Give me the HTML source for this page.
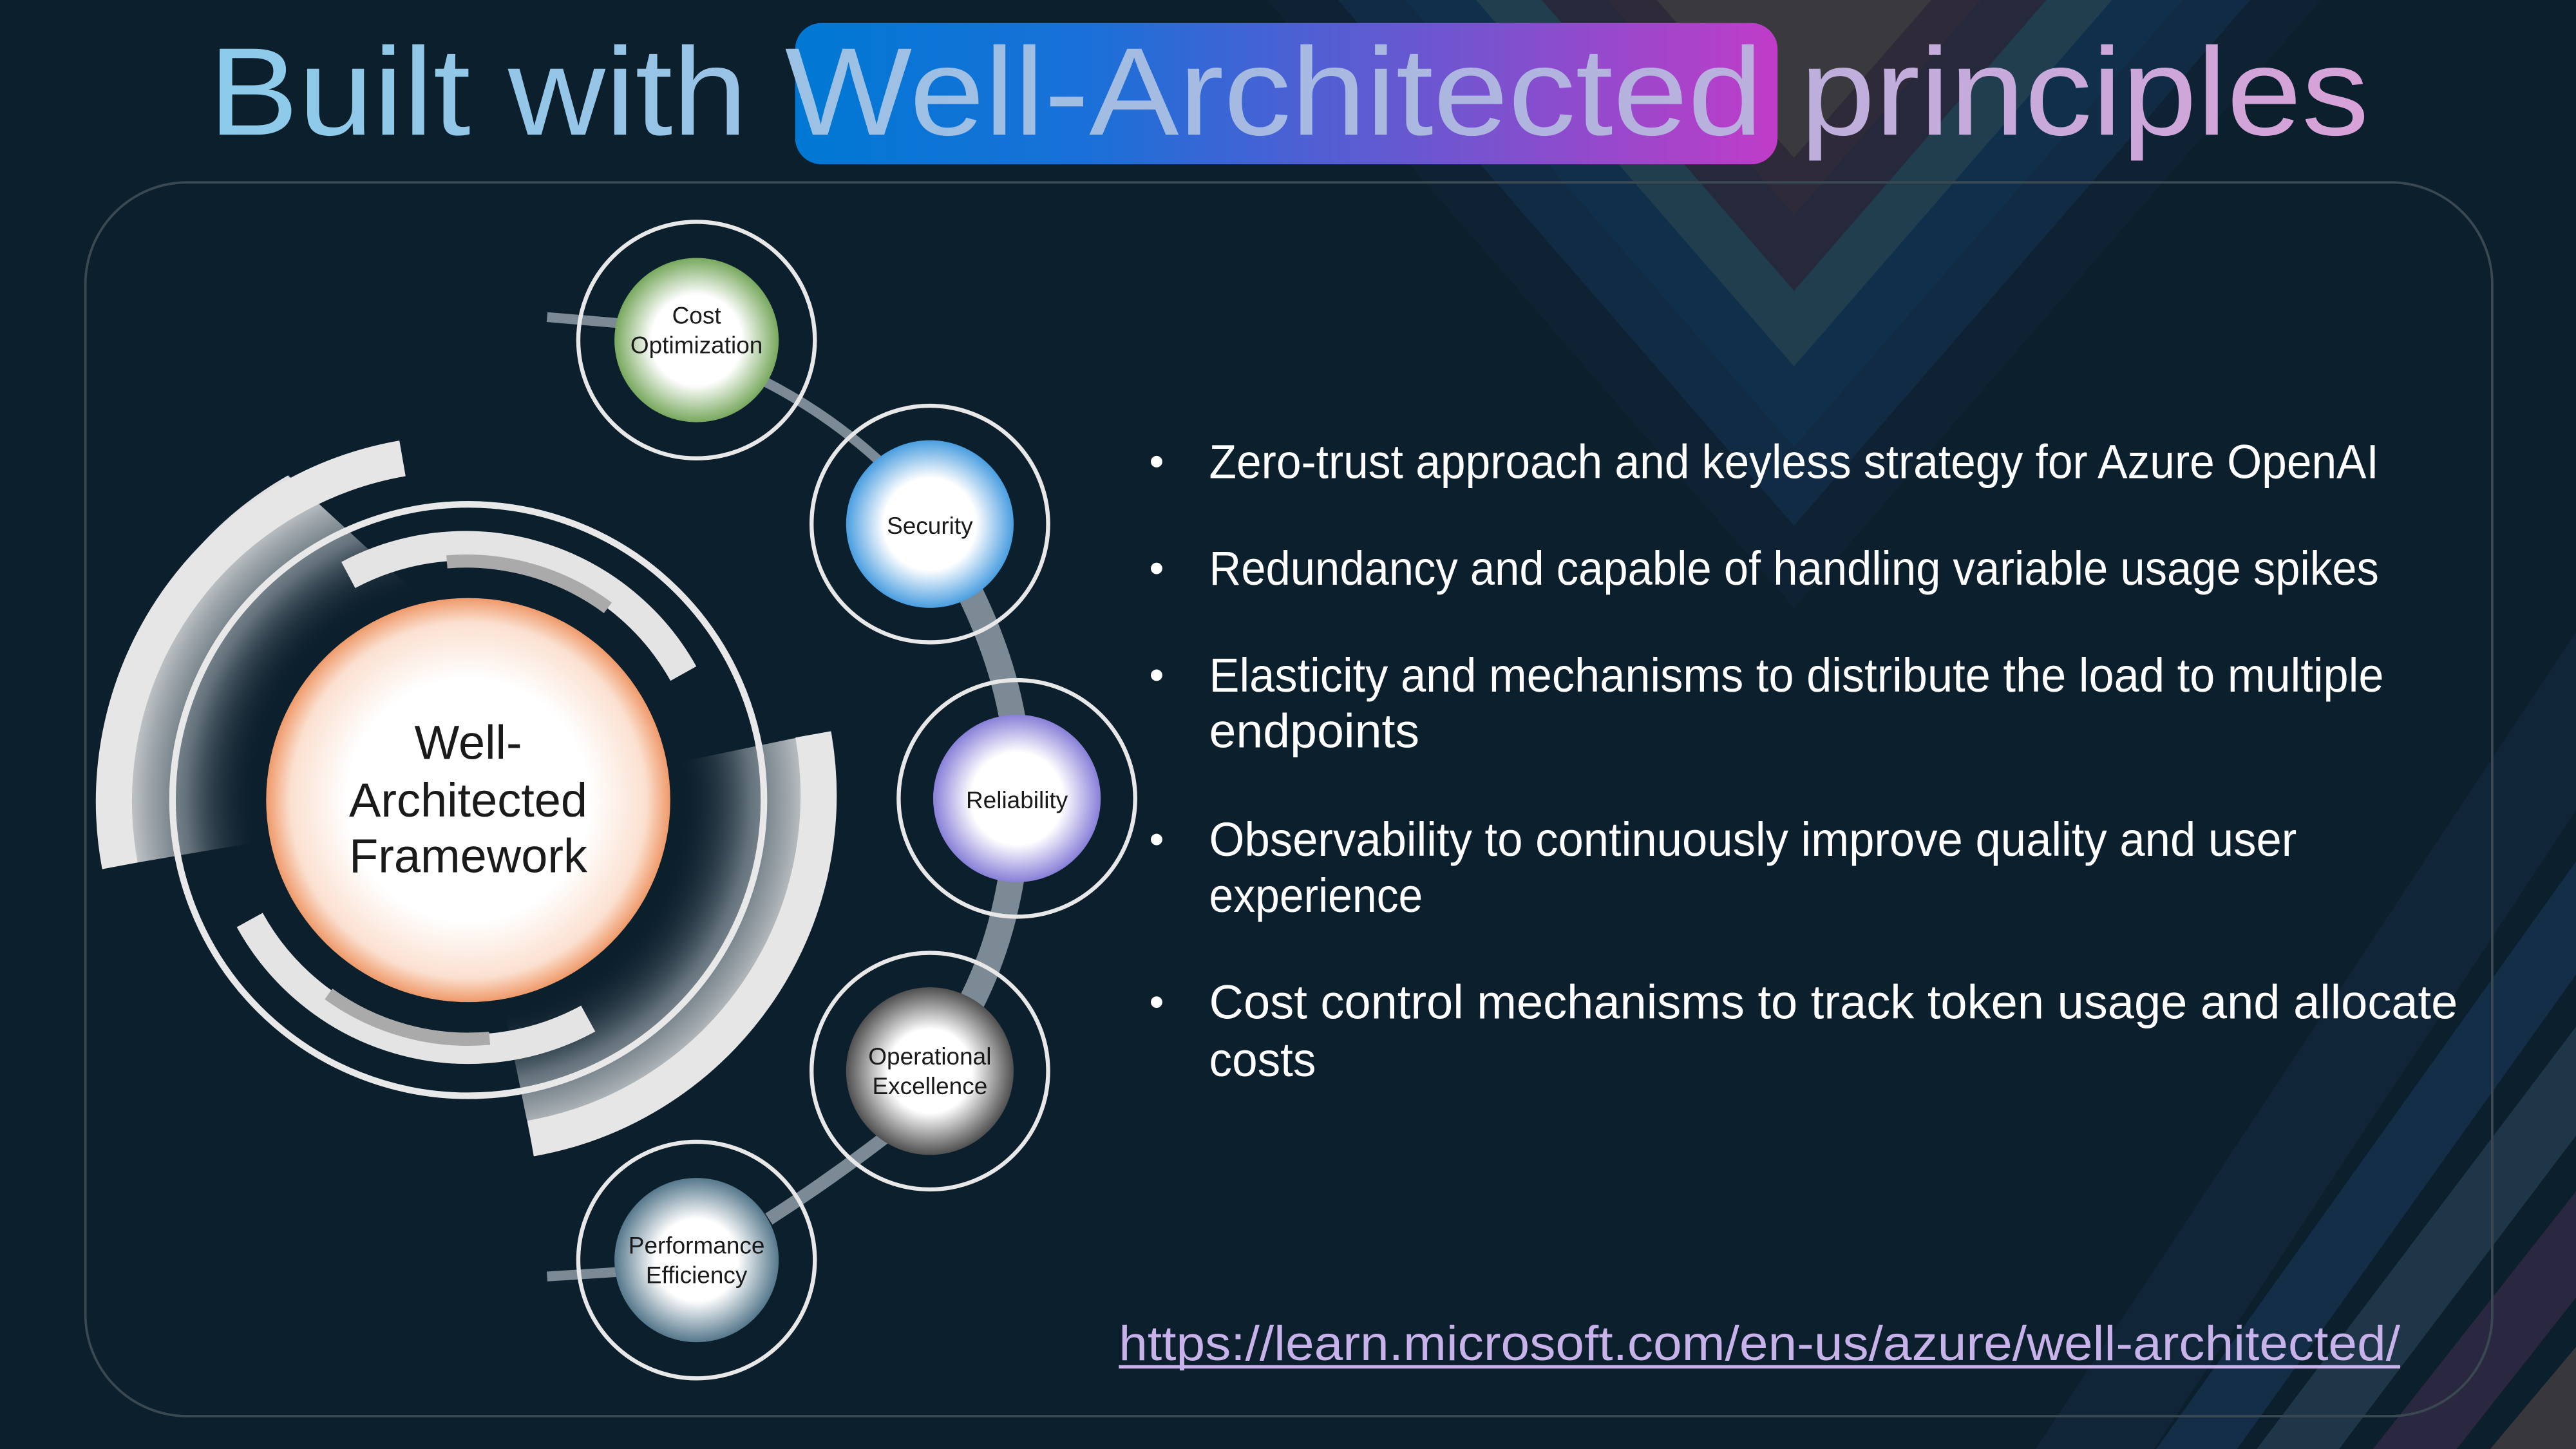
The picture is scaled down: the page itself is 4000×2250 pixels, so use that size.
<!DOCTYPE html>
<html><head><meta charset="utf-8"><style>
html,body{margin:0;padding:0;background:#0c1f2c;}
svg{display:block}
text{font-family:"Liberation Sans",sans-serif}
</style></head><body>
<svg width="4000" height="2250" viewBox="0 0 1568 882" xmlns="http://www.w3.org/2000/svg">
<defs>
<linearGradient id="tg" x1="127" y1="0" x2="1442" y2="0" gradientUnits="userSpaceOnUse">
<stop offset="0" stop-color="#8ccbea"/><stop offset="0.55" stop-color="#aab8e0"/><stop offset="1" stop-color="#d8a2d8"/></linearGradient>
<linearGradient id="hb" x1="0" y1="0" x2="1" y2="0"><stop offset="0" stop-color="#0078d4"/><stop offset="0.3" stop-color="#1a70d8"/><stop offset="1" stop-color="#c03cc8"/></linearGradient>
<radialGradient id="og"><stop offset="0.6" stop-color="#fff"/><stop offset="0.88" stop-color="#fbe0d0"/><stop offset="1" stop-color="#ef9a6a"/></radialGradient>
<radialGradient id="g1"><stop offset="0.55" stop-color="#fff"/><stop offset="1" stop-color="#78a85e"/></radialGradient>
<radialGradient id="g2"><stop offset="0.55" stop-color="#fff"/><stop offset="1" stop-color="#4a9ee0"/></radialGradient>
<radialGradient id="g3"><stop offset="0.55" stop-color="#fff"/><stop offset="1" stop-color="#8880d8"/></radialGradient>
<radialGradient id="g4"><stop offset="0.5" stop-color="#fff"/><stop offset="1" stop-color="#505050"/></radialGradient>
<radialGradient id="g5"><stop offset="0.5" stop-color="#fff"/><stop offset="1" stop-color="#56788c"/></radialGradient>
<radialGradient id="sh" cx="285" cy="487" r="215" gradientUnits="userSpaceOnUse"><stop offset="0.6" stop-color="#0c1f2c" stop-opacity="0"/><stop offset="0.8" stop-color="#8a969e" stop-opacity="0.7"/><stop offset="1" stop-color="#e0e0e0"/></radialGradient>
</defs>
<rect width="1568" height="882" fill="#0c1f2c"/>
<!-- background chevrons -->
<g stroke-linejoin="round">
<polygon points="728,-50 1092,370 1456,-50" fill="#0f2234"/>
<polygon points="771,-50 1092,320 1413,-50" fill="#112b44"/>
<polygon points="812,-50 1092,272 1372,-50" fill="#0f2f4a"/>
<polygon points="855,-50 1092,223 1329,-50" fill="#203e4e"/>
<polygon points="895,-50 1092,177 1289,-50" fill="#26283c"/>
<polygon points="935,-50 1092,131 1249,-50" fill="#2e2a3a"/>
<polygon points="965,-50 1092,96 1219,-50" fill="#3a3a3e"/>
</g>
<g fill="none">
<line x1="1640" y1="330" x2="1250" y2="920" stroke="#102538" stroke-width="60"/>
<line x1="1660" y1="430" x2="1310" y2="920" stroke="#142e48" stroke-width="40"/>
<line x1="1680" y1="510" x2="1370" y2="920" stroke="#1e3648" stroke-width="40"/>
<line x1="1700" y1="590" x2="1440" y2="920" stroke="#2a2840" stroke-width="40"/>
<line x1="1720" y1="670" x2="1510" y2="920" stroke="#38383c" stroke-width="40"/>
</g>
<!-- panel -->
<rect x="52" y="111" width="1465" height="751" rx="62" fill="none" stroke="#3a4852" stroke-width="1.5"/>
<!-- title -->
<rect x="484" y="14" width="598" height="86" rx="16" fill="url(#hb)"/>
<text x="127" y="82" font-size="76" fill="url(#tg)" textLength="1315" lengthAdjust="spacingAndGlyphs">Built with Well-Architected principles</text>
<!-- big diagram -->
<path d="M 175.3 289.4 A 215 215 0 0 0 72 527 L 166 511 A 120 120 0 0 1 262 369 Z" fill="url(#sh)"/>
<path d="M 495 447 A 215 215 0 0 1 323 693 L 305 605 A 120 120 0 0 0 403 466 Z" fill="url(#sh)"/>
<path d="M 245 279 A 212 212 0 0 0 73 527" fill="none" stroke="#e6e6e6" stroke-width="22"/>
<path d="M 495 447 A 212 212 0 0 1 323 693" fill="none" stroke="#e6e6e6" stroke-width="22"/>
<circle cx="285" cy="487" r="180" fill="none" stroke="#e8e8e8" stroke-width="4"/>
<path d="M 212 350 A 152 152 0 0 1 416 410" fill="none" stroke="#e4e4e4" stroke-width="18"/>
<path d="M 272 342 A 145 145 0 0 1 370 370" fill="none" stroke="#aaaaaa" stroke-width="8"/>
<path d="M 152 560 A 152 152 0 0 0 358 620" fill="none" stroke="#e4e4e4" stroke-width="18"/>
<path d="M 200 605 A 145 145 0 0 0 298 632" fill="none" stroke="#aaaaaa" stroke-width="8"/>
<circle cx="285" cy="487" r="123" fill="url(#og)"/>
<g font-size="29" fill="#1a1a1a" text-anchor="middle">
<text x="285" y="462">Well-</text><text x="285" y="497">Architected</text><text x="285" y="531">Framework</text></g>
<!-- connectors -->
<g fill="none" stroke="#7b8a94" stroke-linecap="butt">
<path d="M333,193 L380,197" stroke-width="6"/>
<path d="M465,232 Q510,255 545,290" stroke-width="6"/>
<path d="M585,350 Q622,420 620,486 Q618,570 580,630" stroke-width="16"/>
<path d="M548,685 Q510,715 468,742" stroke-width="8"/>
<path d="M333,777 L380,774" stroke-width="6"/>
</g>
<!-- small nodes -->
<g fill="none" stroke="#e8e8e8" stroke-width="2.5">
<circle cx="424" cy="207" r="72"/><circle cx="566" cy="319" r="72"/><circle cx="619" cy="486" r="72"/><circle cx="566" cy="652" r="72"/><circle cx="424" cy="767" r="72"/>
</g>
<circle cx="424" cy="207" r="50" fill="url(#g1)"/>
<circle cx="566" cy="319" r="51" fill="url(#g2)"/>
<circle cx="619" cy="486" r="51" fill="url(#g3)"/>
<circle cx="566" cy="652" r="51" fill="url(#g4)"/>
<circle cx="424" cy="767" r="50" fill="url(#g5)"/>
<g font-size="14.5" fill="#1a1a1a" text-anchor="middle">
<text x="424" y="197">Cost</text><text x="424" y="215">Optimization</text>
<text x="566" y="325">Security</text>
<text x="619" y="492">Reliability</text>
<text x="566" y="648">Operational</text><text x="566" y="666">Excellence</text>
<text x="424" y="763">Performance</text><text x="424" y="781">Efficiency</text>
</g>
<!-- bullets -->
<g fill="#fff" font-size="29">
<circle cx="704" cy="281" r="3.5"/><circle cx="704" cy="346" r="3.5"/><circle cx="704" cy="411" r="3.5"/><circle cx="704" cy="511" r="3.5"/><circle cx="704" cy="610" r="3.5"/>
<text x="736" y="291" textLength="712" lengthAdjust="spacingAndGlyphs">Zero-trust approach and keyless strategy for Azure OpenAI</text>
<text x="736" y="356" textLength="712" lengthAdjust="spacingAndGlyphs">Redundancy and capable of handling variable usage spikes</text>
<text x="736" y="421" textLength="715" lengthAdjust="spacingAndGlyphs">Elasticity and mechanisms to distribute the load to multiple</text>
<text x="736" y="455" textLength="128" lengthAdjust="spacingAndGlyphs">endpoints</text>
<text x="736" y="521" textLength="662" lengthAdjust="spacingAndGlyphs">Observability to continuously improve quality and user</text>
<text x="736" y="555" textLength="130" lengthAdjust="spacingAndGlyphs">experience</text>
<text x="736" y="620" textLength="760" lengthAdjust="spacingAndGlyphs">Cost control mechanisms to track token usage and allocate</text>
<text x="736" y="655" textLength="65" lengthAdjust="spacingAndGlyphs">costs</text>
</g>
<text x="681" y="828" font-size="30" fill="#c8b2ea" textLength="780" lengthAdjust="spacingAndGlyphs">https://learn.microsoft.com/en-us/azure/well-architected/</text>
<line x1="681" y1="832" x2="1461" y2="832" stroke="#c8b2ea" stroke-width="2"/>
</svg>
</body></html>
